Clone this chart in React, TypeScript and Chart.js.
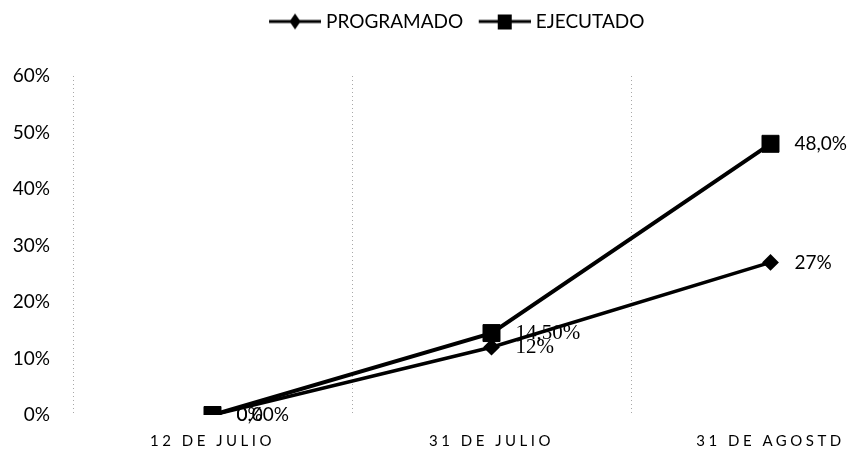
import React, { useEffect, useRef } from 'react';
import { Chart, registerables } from 'chart.js';

Chart.register(...registerables);

const categories = ['12 DE JULIO', '31 DE JULIO', '31 DE AGOSTD'];
const seriesNames = ['PROGRAMADO', 'EJECUTADO'];
const programado = [0, 12, 27];
const ejecutado = [0, 14.5, 48];
const programadoLabels = ['0%', '12%', '27%'];
const ejecutadoLabels = ['0,00%', '14,50%', '48,0%'];
const yTicks = [0, 10, 20, 30, 40, 50, 60];

const SANS = 'Lato';

function makeLegendIcon(kind: 'diamond' | 'square') {
  const c = document.createElement('canvas');
  c.width = 60;
  c.height = 18;
  const g = c.getContext('2d')!;
  g.strokeStyle = '#000';
  g.lineWidth = 3;
  g.beginPath();
  g.moveTo(8, 9);
  g.lineTo(60, 9);
  g.stroke();
  g.fillStyle = '#000';
  const cx = 34;
  if (kind === 'diamond') {
    g.beginPath();
    g.moveTo(cx, 1);
    g.lineTo(cx + 5.5, 9);
    g.lineTo(cx, 17);
    g.lineTo(cx - 5.5, 9);
    g.closePath();
    g.fill();
  } else {
    g.fillRect(cx - 7, 2, 14, 15);
  }
  return c;
}

const dataLabelPlugin = {
  id: 'pointLabels',
  afterDatasetsDraw(chart: any) {
    const ctx = chart.ctx;
    const sets = [programadoLabels, ejecutadoLabels];
    chart.data.datasets.forEach((_ds: any, di: number) => {
      const meta = chart.getDatasetMeta(di);
      meta.data.forEach((pt: any, i: number) => {
        const text = sets[di][i];
        ctx.save();
        ctx.font = i === 1 ? '21px "Liberation Serif"' : `19px ${SANS}`;
        ctx.fillStyle = '#000';
        ctx.textAlign = 'left';
        ctx.textBaseline = 'middle';
        ctx.fillText(text, pt.x + 24, pt.y);
        ctx.restore();
      });
    });
  },
};

const layoutTweaksPlugin = {
  id: 'layoutTweaks',
  beforeLayout(chart: any) {
    const lg = chart.legend;
    if (lg && !lg.__extra) {
      const f = lg.fit.bind(lg);
      lg.fit = () => {
        f();
        lg.height += 35;
      };
      lg.__extra = true;
    }
  },
  afterLayout(chart: any) {
    const xs = chart.scales.x;
    if (xs && !xs.__spaced) {
      const orig = xs.drawLabels.bind(xs);
      xs.drawLabels = (area: any) => {
        const ctx = chart.ctx;
        ctx.save();
        ctx.letterSpacing = '3.5px';
        orig(area);
        ctx.restore();
      };
      xs.__spaced = true;
    }
  },
};

export default function App() {
  const ref = useRef<HTMLCanvasElement | null>(null);

  useEffect(() => {
    if (!ref.current) return;
    const icons = [makeLegendIcon('diamond'), makeLegendIcon('square')];
    const chart = new Chart(ref.current, {
      type: 'line',
      data: {
        labels: categories,
        datasets: [
          {
            label: seriesNames[0],
            data: programado,
            borderColor: '#000',
            backgroundColor: '#000',
            borderWidth: 3.5,
            pointStyle: 'rectRot',
            pointRadius: 7,
            pointBorderWidth: 2,
            pointBackgroundColor: '#000',
            pointBorderColor: '#000',
            tension: 0,
          },
          {
            label: seriesNames[1],
            data: ejecutado,
            borderColor: '#000',
            backgroundColor: '#000',
            borderWidth: 4,
            pointStyle: 'rect',
            pointRadius: 12,
            pointBorderWidth: 1,
            pointBackgroundColor: '#000',
            pointBorderColor: '#000',
            tension: 0,
          },
        ],
      },
      options: {
        responsive: false,
        animation: false,
        devicePixelRatio: 1,
        layout: { padding: { left: 0, right: 14, top: 0, bottom: 0 } },
        plugins: {
          legend: {
            position: 'top',
            labels: {
              usePointStyle: true,
              pointStyleWidth: 51,
              color: '#000',
              padding: 12,
              font: { family: SANS, size: 19 },
              generateLabels: (c: any) =>
                c.data.datasets.map((ds: any, i: number) => ({
                  text: ds.label,
                  pointStyle: icons[i],
                  datasetIndex: i,
                  fillStyle: '#000',
                  strokeStyle: '#000',
                  lineWidth: 0,
                  hidden: false,
                  fontColor: '#000',
                })),
            },
          },
          tooltip: { enabled: false },
        },
        scales: {
          x: {
            type: 'category',
            offset: true,
            grid: { offset: true, color: '#a8a8a8', lineWidth: 1, drawTicks: false },
            border: { display: false, dash: [1, 3] },
            ticks: {
              color: '#000',
              font: { family: SANS, size: 15 },
              padding: 17,
              maxRotation: 0,
              autoSkip: false,
            },
            afterFit: (s: any) => {
              s.height = 34;
            },
          },
          y: {
            min: 0,
            max: 60,
            grid: { display: false },
            border: { display: false },
            afterBuildTicks: (s: any) => {
              s.ticks = yTicks.map((v) => ({ value: v }));
            },
            afterFit: (s: any) => {
              s.width = 73;
            },
            ticks: {
              color: '#000',
              font: { family: SANS, size: 19 },
              padding: 15,
              callback: (v: any) => v + '%',
            },
          },
        },
      },
      plugins: [dataLabelPlugin, layoutTweaksPlugin],
    } as any);
    return () => chart.destroy();
  }, []);

  return (
    <div
      style={{
        position: 'fixed',
        left: 0,
        top: 0,
        width: 851,
        height: 449,
        overflow: 'hidden',
        background: '#fff',
      }}
    >
      <canvas ref={ref} width={924} height={449} style={{ width: 924, height: 449, display: 'block' }} />
    </div>
  );
}
